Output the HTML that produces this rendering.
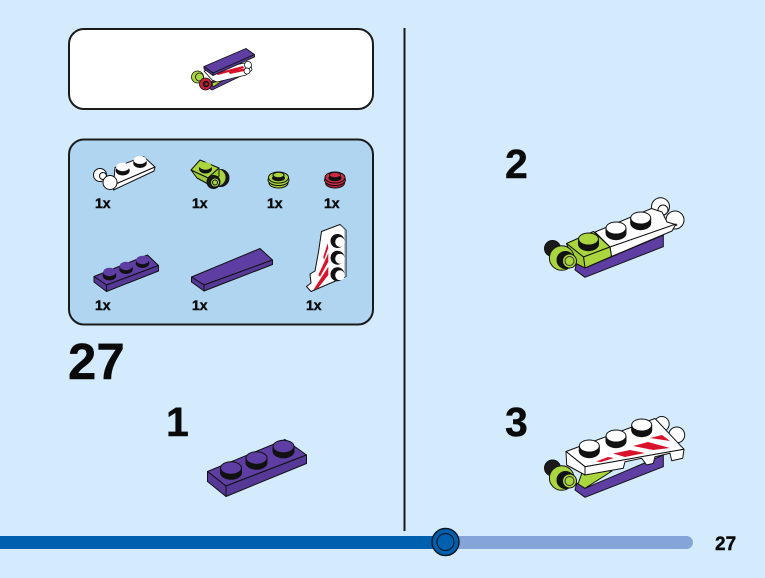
<!DOCTYPE html>
<html><head><meta charset="utf-8"><style>
html,body{margin:0;padding:0;background:#d3ebfc}
svg{display:block}
text{font-family:"Liberation Sans",sans-serif;font-weight:bold;fill:#0a0a0a;stroke:#0a0a0a;stroke-width:.4px}
.o{stroke:#111;stroke-width:1;stroke-linejoin:round}
.p{fill:#5e3ea2}.pd{fill:#563896}.w{fill:#fff}.wd{fill:#f2f2f2}.l{fill:#aad53e}.ld{fill:#9fcb35}.r{fill:#d8122a}
</style></head><body>
<svg width="765" height="578" viewBox="0 0 765 578" xmlns="http://www.w3.org/2000/svg">
<rect width="765" height="578" fill="#d3ebfc"/>
<rect x="69" y="29" width="304" height="80" rx="15" fill="#fff" stroke="#1a1a1a" stroke-width="2"/>
<rect x="69" y="139.500" width="304" height="185" rx="15" fill="#b0d5f1" stroke="#1a1a1a" stroke-width="2"/>
<rect x="403.500" y="28" width="2" height="503" fill="#1a1a1a"/>

<!-- progress bar -->
<rect x="300" y="536" width="393" height="13" rx="6.500" fill="#85a5d8"/>
<rect x="0" y="536" width="445" height="13" fill="#0060b0"/>
<circle cx="445.500" cy="542" r="13.500" fill="#0060b0" stroke="#0a1a2a" stroke-width="1.500"/>
<circle cx="445.500" cy="542" r="8.500" fill="#0060b0" stroke="#0a1a2a" stroke-width="1.200"/>

<!-- text -->
<text x="68" y="379" font-size="51">27</text>
<text x="166" y="436" font-size="41">1</text>
<text x="505" y="178" font-size="41">2</text>
<text x="505" y="436" font-size="41">3</text>
<text x="715" y="550" font-size="19">27</text>
<g font-size="14">
<text x="95" y="208">1x</text><text x="192" y="208">1x</text><text x="267" y="208">1x</text><text x="324" y="208">1x</text>
<text x="95" y="310">1x</text><text x="192" y="310">1x</text><text x="306" y="310">1x</text>
</g>

<!-- final model in top box -->
<g class="o" style="stroke-width:.8">
<polygon class="p" points="210,82 245,70 245,74 212,90 209,88"/>
<polygon class="l" points="212,83 227,78 213,87"/>
<polygon class="w" points="204,71 250,62 252,70 246,75 217,82 212,80"/>
<polygon class="r" stroke="none" points="216,73 243,66 244,68 218,75"/>
<polygon class="r" stroke="none" points="228,71 248,68 249,70 230,74"/>
<circle class="w" cx="248" cy="65" r="3.500"/><circle class="w" cx="247" cy="71" r="3"/>
<polygon class="p" points="204,66.500 246,48.500 254.500,54.500 213,73"/>
<polygon class="pd" points="204,66.500 213,73 213,75.500 204,69"/>
<polygon class="pd" points="213,73 254.500,54.500 254.500,57 213,75.500"/>
<circle class="l" cx="197.500" cy="77" r="6"/><circle fill="none" cx="199.500" cy="77" r="4"/>
<circle fill="#c8203a" cx="205.500" cy="84" r="6"/><circle fill="#222" cx="206" cy="84" r="2.800"/><circle fill="#c8203a" stroke="none" cx="206.500" cy="84" r="1.300"/>
</g>

<!-- part: white clip plate -->
<g class="o">
<circle class="w" cx="100" cy="175" r="6.500"/><circle fill="none" cx="103" cy="176" r="3.500"/>
<polygon class="w" points="115,167.500 143.500,156.500 155,167 113.500,185"/>
<polygon class="w" points="113.500,185 155,167 154,171 113.500,190"/>
<circle class="w" cx="110" cy="182.500" r="7"/>
<ellipse fill="#111" cx="122.700" cy="170.500" rx="6.500" ry="4.500"/><ellipse class="w" stroke="none" cx="122.700" cy="167" rx="6.500" ry="4.200"/>
<ellipse fill="#111" cx="140" cy="163" rx="6.300" ry="4.500"/><ellipse class="w" stroke="none" cx="140" cy="160" rx="6.300" ry="4"/>
</g>

<!-- part: lime clip plate -->
<g class="o">
<circle fill="#1a1a1a" cx="220.500" cy="178" r="8.500"/>
<circle class="l" stroke="none" cx="217" cy="177.500" r="8.500"/>
<polygon class="l" points="191,170 200,160 219,168 208,178"/>
<polygon class="ld" points="191,170 208,178 208,184 197,178"/>
<polygon class="ld" points="208,178 219,168 219,176 208,184"/>
<ellipse fill="#111" cx="205.500" cy="169" rx="6" ry="4"/><ellipse class="l" stroke="none" cx="205.500" cy="166" rx="6" ry="3.800"/>
<circle fill="#1a1a1a" cx="213.500" cy="182" r="6.500"/><circle class="l" cx="215" cy="182.500" r="4.500"/><circle fill="none" cx="215" cy="182.500" r="2.500"/>
</g>

<!-- part: lime round -->
<g class="o">
<ellipse class="ld" cx="278.500" cy="183" rx="9.500" ry="5"/>
<ellipse class="l" cx="278.500" cy="180" rx="10.500" ry="5.500"/>
<ellipse class="l" cx="278.500" cy="177.500" rx="10" ry="5.500"/>
<ellipse fill="#111" cx="278.500" cy="178" rx="6" ry="2.800"/>
<ellipse class="l" cx="278.500" cy="175" rx="5.500" ry="2.800"/>
</g>

<!-- part: red round -->
<g class="o">
<ellipse fill="#b81c34" cx="335" cy="183" rx="9.500" ry="5"/>
<ellipse fill="#cc2a44" cx="335" cy="180" rx="10.500" ry="5.500"/>
<ellipse fill="#cc2a44" cx="335" cy="177.500" rx="10" ry="5.500"/>
<ellipse fill="#111" cx="335" cy="178" rx="6" ry="2.800"/>
<ellipse fill="#cc2a44" cx="335" cy="175" rx="5.500" ry="2.800"/>
</g>

<!-- part: small purple plate -->
<g class="o">
<polygon class="p" points="94,276.500 147.500,255 158.500,265.500 106.500,285"/>
<polygon class="pd" points="94,276.500 106.500,285 106.500,291.500 94,282"/>
<polygon class="pd" points="106.500,285 158.500,265.500 158.500,271 106.500,291.500"/>
<ellipse fill="#111" cx="109.500" cy="275.500" rx="6.300" ry="4.500"/><ellipse class="p" stroke="none" cx="109.500" cy="272" rx="6.300" ry="4.200"/>
<ellipse fill="#111" cx="126" cy="269" rx="6.300" ry="4.500"/><ellipse class="p" stroke="none" cx="126" cy="266" rx="6.300" ry="4.200"/>
<ellipse fill="#111" cx="142.500" cy="263" rx="6.300" ry="4.500"/><ellipse class="p" stroke="none" cx="142.500" cy="260" rx="6.300" ry="4.200"/>
</g>

<!-- part: purple tile -->
<g class="o">
<polygon class="p" points="191.500,277 260,248.500 272.500,260 204,285"/>
<polygon class="pd" points="191.500,277 204,285 204,291 191.500,282"/>
<polygon class="pd" points="204,285 272.500,260 272.500,264.500 204,291"/>
</g>

<!-- part: wedge -->
<g class="o">
<polygon class="w" points="306.500,286.500 311,283 310,274 315,271 318.500,252 321.500,231.500 340,224.500 346,230 346,276.500 311,291.500"/>
<polygon fill="#7f90a0" stroke="none" points="340,224.500 346,230 346,276.500 344.500,277 344.500,230"/>
<polygon class="r" stroke="none" points="313.300,290 328.300,266.700 328.300,275 318.300,287.700"/>
<polygon class="r" stroke="none" points="318.300,275 328.300,253.300 328.300,261.700 320,276.700"/>
<polygon class="r" stroke="none" points="323.300,256.700 327.700,243.300 328.300,248 324,260"/>
<ellipse fill="#111" cx="337.500" cy="241" rx="6.500" ry="6.500"/><ellipse class="w" stroke="none" cx="340" cy="242" rx="4.800" ry="5"/>
<ellipse fill="#111" cx="337.500" cy="257.700" rx="6.500" ry="6.500"/><ellipse class="w" stroke="none" cx="340" cy="258.700" rx="4.800" ry="5"/>
<ellipse fill="#111" cx="337.500" cy="274.300" rx="6.500" ry="6.500"/><ellipse class="w" stroke="none" cx="340" cy="275.300" rx="4.800" ry="5"/>
</g>

<!-- step 1 -->
<g class="o">
<polygon class="p" points="207.500,471.500 285,439.500 306.500,455 226,486"/>
<polygon class="pd" points="207.500,471.500 226,486 226,496.500 207.500,481.500"/>
<polygon class="pd" points="226,486 306.500,455 306.500,463.500 226,496.500"/>
<ellipse fill="#111" cx="231" cy="472.500" rx="10.500" ry="6.800"/><rect fill="#111" x="220.500" y="468" width="21" height="5"/><ellipse class="p" cx="231" cy="468" rx="10.500" ry="6.300"/>
<ellipse fill="#111" cx="256.500" cy="462.500" rx="10.500" ry="6.800"/><rect fill="#111" x="246" y="458" width="21" height="5"/><ellipse class="p" cx="256.500" cy="458" rx="10.500" ry="6.300"/>
<ellipse fill="#111" cx="283.500" cy="451" rx="10.500" ry="6.800"/><rect fill="#111" x="273" y="446.500" width="21" height="5"/><ellipse class="p" cx="283.500" cy="446.500" rx="10.500" ry="6.300"/>
</g>

<!-- step 2 -->
<g class="o">
<polygon class="p" points="576.700,262 585,268 663.300,235 663.300,246.700 585,277.300 575,270"/>
<circle class="w" cx="660.500" cy="206.700" r="9"/><circle fill="none" cx="663" cy="210" r="5"/>
<circle class="w" cx="675" cy="220" r="9"/>
<polygon class="w" points="595,232 651.500,208.500 662,212 667,222 677,225 610,247"/>
<polygon class="w" points="610,247 676,224 672,231 611.500,256.500"/>
<polygon class="l" points="566.500,243.500 593.500,231.500 610,247 583.500,257"/>
<polygon class="l" points="583.500,257 610,247 611.500,256.500 585,268"/>
<polygon class="ld" points="566.500,243.500 583.500,257 585,268 573,262"/>
<circle fill="#1a1a1a" cx="552.500" cy="248.500" r="8"/>
<circle class="l" cx="561.700" cy="258" r="12.300"/>
<circle fill="#111" cx="565.500" cy="260" r="8.500"/>
<circle class="l" cx="569.500" cy="261" r="7"/><circle fill="none" stroke="#333" cx="569.500" cy="261" r="4.500"/>
<ellipse fill="#111" cx="588.500" cy="244" rx="10" ry="6.700"/><rect fill="#111" x="578.500" y="239" width="20" height="5"/><ellipse class="l" cx="588.500" cy="239" rx="10" ry="6"/>
<ellipse fill="#111" cx="616" cy="233" rx="10" ry="6.700"/><rect fill="#111" x="606" y="228" width="20" height="5"/><ellipse class="w" cx="616" cy="228" rx="10" ry="6"/>
<ellipse fill="#111" cx="640.700" cy="223" rx="10" ry="6.700"/><rect fill="#111" x="630.700" y="218" width="20" height="5"/><ellipse class="w" cx="640.700" cy="218" rx="10" ry="6"/>
</g>

<!-- step 3 -->
<g class="o">
<polygon class="p" points="576.700,483 585,488.300 663.300,455 663.300,466.700 585,497.300 575,490"/>
<polygon class="l" points="578,484 583,470 612,471 585,488.300"/>
<circle class="w" cx="661.700" cy="424" r="7.500"/>
<circle class="w" cx="676.700" cy="435" r="8"/>
<polygon class="w" points="566,451.500 655,418.500 684,449.300 585,466.700"/>
<polygon class="w" points="566,451.500 585,466.700 585,475 566.700,465"/>
<polygon class="w" points="585,466.700 684,449.300 682.700,458.300 671.700,460.700 670,453.300 655,456.700 653.300,463.300 646.700,465 641.700,458.300 625,461.700 623.300,468.300 585,475"/>
<polygon class="r" stroke="none" points="596,461.500 608,457 614,458 601,462"/>
<polygon class="r" stroke="none" points="613,453.500 630,450 645,453 625,457"/>
<polygon class="r" stroke="none" points="633,446 648,442 670,448 653,450"/>
<polygon class="r" stroke="none" points="650,438 662,435 670,441"/>
<circle fill="#1a1a1a" cx="552.500" cy="468" r="8"/>
<circle class="l" cx="561.700" cy="478" r="12.300"/>
<circle fill="#111" cx="565.500" cy="480" r="8.500"/>
<circle class="l" cx="569.500" cy="481" r="7"/><circle fill="none" stroke="#333" cx="569.500" cy="481" r="4.500"/>
<ellipse fill="#111" cx="589.300" cy="451" rx="10" ry="6.700"/><rect fill="#111" x="579.300" y="446" width="20" height="5"/><ellipse class="w" cx="589.300" cy="446" rx="10" ry="6"/>
<ellipse fill="#111" cx="616" cy="441" rx="10" ry="6.700"/><rect fill="#111" x="606" y="436" width="20" height="5"/><ellipse class="w" cx="616" cy="436" rx="10" ry="6"/>
<ellipse fill="#111" cx="641.700" cy="430" rx="10" ry="6.700"/><rect fill="#111" x="631.700" y="425" width="20" height="5"/><ellipse class="w" cx="641.700" cy="425" rx="10" ry="6"/>
</g>
</svg>
</body></html>
